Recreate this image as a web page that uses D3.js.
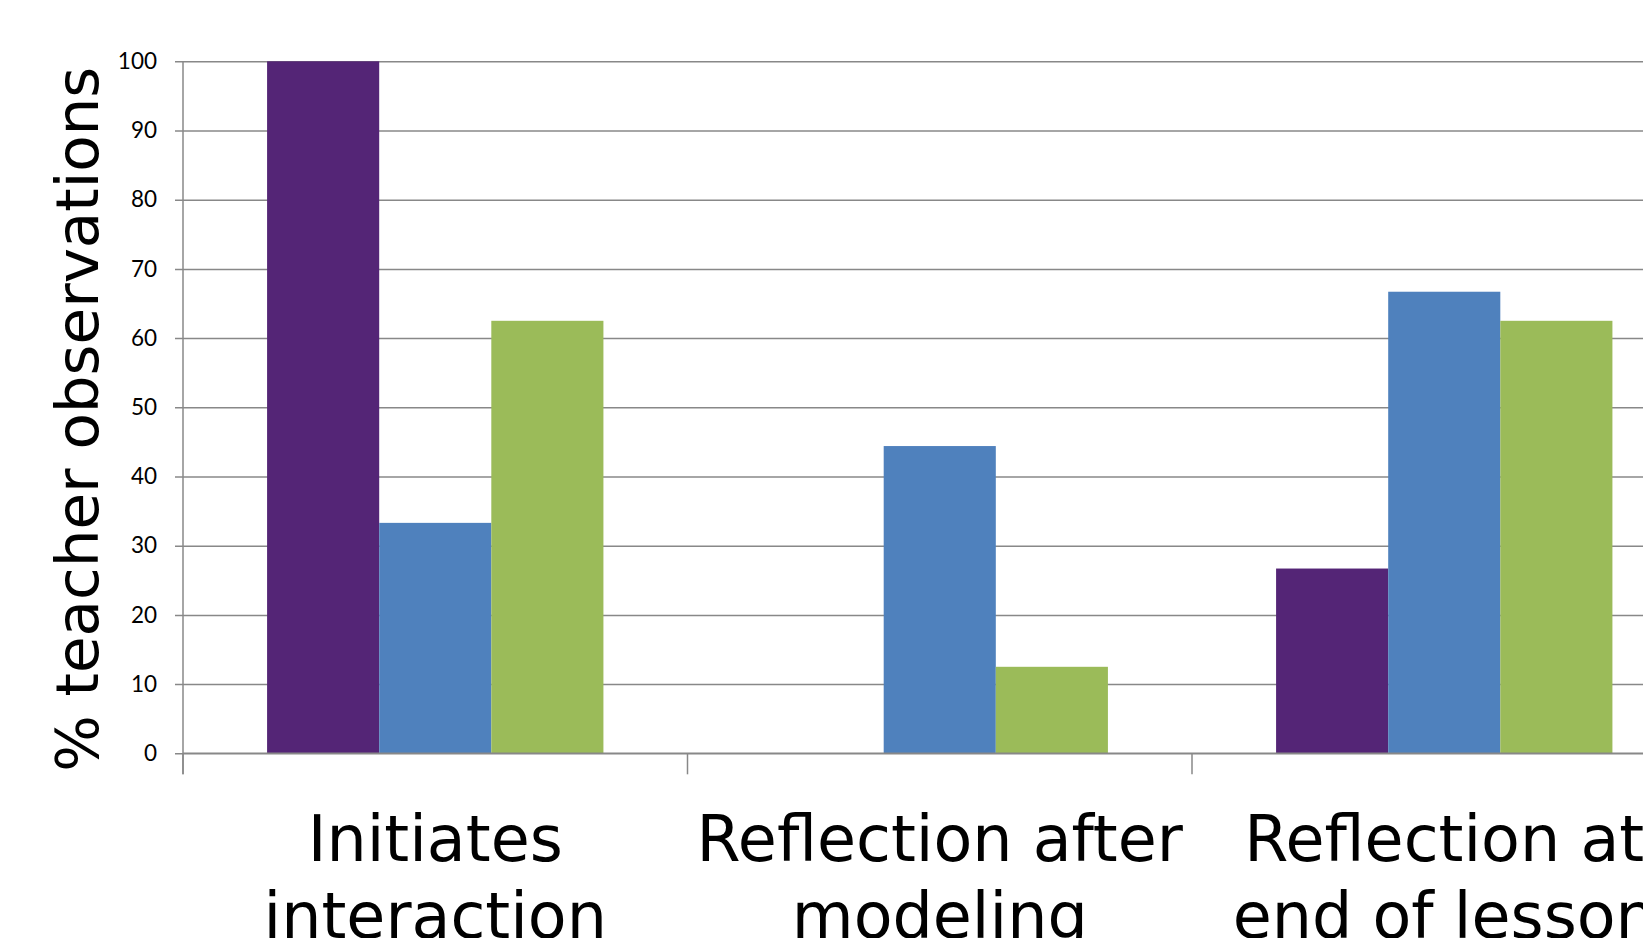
<!DOCTYPE html>
<html>
<head>
<meta charset="utf-8">
<script src="https://cdn.jsdelivr.net/npm/d3@7"></script>
<style>
  html, body { margin: 0; padding: 0; background: #ffffff; overflow: hidden; }
  svg { display: block; }
</style>
</head>
<body>
<svg id="chart" width="1643" height="938"></svg>
<script>
// Categories on the x axis, each label split onto its two display lines
const categories = ["Initiates interaction", "Reflection after modeling", "Reflection at end of lesson"];
const categoryLines = [["Initiates", "interaction"], ["Reflection after", "modeling"], ["Reflection at", "end of lesson"]];

// Three series of percentages, one value per category
const seriesNames = ["seriesA", "seriesB", "seriesC"];
const seriesA = [100, 0, 26.7];
const seriesB = [33.3, 44.4, 66.7];
const seriesC = [62.5, 12.5, 62.5];
const seriesColors = ["#542576", "#4f81bd", "#9bbb59"];

// Y axis ticks
const yTicks = [0, 10, 20, 30, 40, 50, 60, 70, 80, 90, 100];
const yTitle = "% teacher observations";

const seriesValues = [seriesA, seriesB, seriesC];

const svg = d3.select("#chart");
const W = 1643, H = 938;
svg.append("rect").attr("width", W).attr("height", H).attr("fill", "#ffffff");

// Plot area (its right edge runs past the visible frame)
const plotLeft = 183, plotTop = 61.3, plotBottom = 753.3, plotRight = 1696.5;
const plotW = plotRight - plotLeft;

const y = d3.scaleLinear().domain([0, 100]).range([plotBottom, plotTop]);
const x0 = d3.scaleBand().domain(categories).range([plotLeft, plotRight]).padding(0);
const x1 = d3.scaleBand().domain(seriesNames).range([0, x0.bandwidth()])
  .paddingInner(0).paddingOuter(0.75);

const gridColor = "#888888";

// Gridlines with short ticks on the left and value labels
const yAxis = d3.axisLeft(y).tickValues(yTicks).tickSize(-plotW).tickPadding(26);
const gy = svg.append("g").attr("transform", `translate(${plotLeft},0)`).call(yAxis);
gy.select(".domain").remove();
gy.selectAll(".tick line")
  .attr("x1", -8)
  .attr("stroke", gridColor)
  .attr("stroke-width", 1.5);
gy.selectAll(".tick text")
  .attr("fill", "#000")
  .style("font-family", "Lato, 'Open Sans', sans-serif")
  .style("font-size", "22.5px");

// Bars
const groups = svg.append("g").selectAll("g")
  .data(categories)
  .join("g")
  .attr("transform", d => `translate(${x0(d)},0)`);

groups.selectAll("rect")
  .data((d, i) => seriesNames.map((s, k) => ({ s, v: seriesValues[k][i], c: seriesColors[k] })))
  .join("rect")
  .attr("x", d => x1(d.s))
  .attr("width", x1.bandwidth())
  .attr("y", d => y(d.v))
  .attr("height", d => y(0) - y(d.v))
  .attr("fill", d => d.c);

// Vertical axis line, running slightly below zero
svg.append("line")
  .attr("x1", plotLeft).attr("x2", plotLeft)
  .attr("y1", plotTop).attr("y2", plotBottom + 21)
  .attr("stroke", gridColor).attr("stroke-width", 1.5);

// Horizontal axis line at zero
svg.append("line")
  .attr("x1", plotLeft).attr("x2", plotRight)
  .attr("y1", y(0)).attr("y2", y(0))
  .attr("stroke", gridColor).attr("stroke-width", 1.5);

// Category boundary ticks below the axis
const boundaries = categories.map(c => x0(c)).concat([x0(categories[categories.length - 1]) + x0.bandwidth()]);
svg.append("g").selectAll("line")
  .data(boundaries)
  .join("line")
  .attr("x1", d => d).attr("x2", d => d)
  .attr("y1", y(0)).attr("y2", y(0) + 21)
  .attr("stroke", gridColor).attr("stroke-width", 1.5);

// Category labels, two lines each
const labels = svg.append("g").selectAll("text")
  .data(categories)
  .join("text")
  .attr("text-anchor", "middle")
  .attr("fill", "#000")
  .style("font-family", "'DejaVu Sans', sans-serif")
  .style("font-size", "63.5px");
labels.each(function (d, i) {
  const cx = x0(d) + x0.bandwidth() / 2;
  d3.select(this).selectAll("tspan")
    .data(categoryLines[i])
    .join("tspan")
    .attr("x", cx)
    .attr("y", (t, j) => 861 + j * 77)
    .text(t => t);
});

// Y axis title
svg.append("text")
  .attr("transform", `translate(98,${(plotTop + plotBottom) / 2 + 12}) rotate(-90)`)
  .attr("text-anchor", "middle")
  .attr("fill", "#000")
  .style("font-family", "'DejaVu Sans', sans-serif")
  .style("font-size", "59.5px")
  .text(yTitle);
</script>
</body>
</html>
